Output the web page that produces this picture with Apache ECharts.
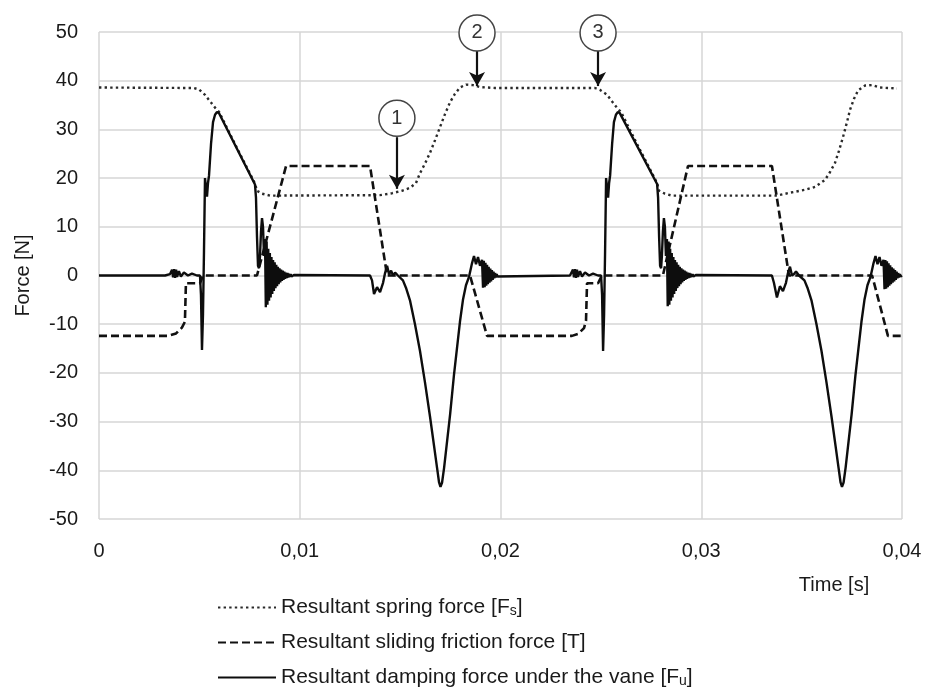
<!DOCTYPE html>
<html>
<head>
<meta charset="utf-8">
<script src="https://cdn.jsdelivr.net/npm/echarts@6/dist/echarts.min.js"></script>
<style>
html,body{margin:0;padding:0;background:#fff;}
#chart{width:935px;height:687px;}
</style>
</head>
<body>
<div id="chart"></div>
<script>
// ---- tick labels ----
const xTickLabels = ['0', '0,01', '0,02', '0,03', '0,04'];
const yTickValues = [-50, -40, -30, -20, -10, 0, 10, 20, 30, 40, 50];

// ---- series names ----
const seriesNames = [
  'Resultant spring force [Fs]',
  'Resultant sliding friction force [T]',
  'Resultant damping force under the vane [Fu]'
];

// ---- Resultant spring force [Fs]  ([time s, force N]) ----
const springForce = [
  [0, 38.6], [0.00473, 38.5], [0.00498, 38.2], [0.00528, 37.1], [0.00558, 35.5],
  [0.00583, 34.2], [0.00598, 33.6], [0.00687, 26.2], [0.00777, 18.9],
  [0.00787, 17.4], [0.00812, 16.8], [0.00852, 16.4], [0.01400, 16.5],
  [0.01460, 16.9], [0.01509, 17.4], [0.01549, 18.0], [0.01579, 19.0],
  [0.01599, 21.0], [0.01624, 23.0], [0.01649, 25.2], [0.01674, 27.8],
  [0.01699, 30.5], [0.01724, 33.2], [0.01749, 35.6], [0.01773, 37.3],
  [0.01798, 38.6], [0.01828, 39.2], [0.01863, 39.1], [0.01898, 38.7],
  [0.01973, 38.5], [0.02471, 38.5], [0.02496, 38.1], [0.02531, 37.1],
  [0.02560, 35.5], [0.02585, 34.2], [0.02600, 33.6], [0.02690, 26.2],
  [0.02780, 19.0], [0.02790, 17.4], [0.02819, 16.8], [0.02854, 16.4],
  [0.03377, 16.4], [0.03442, 17.0], [0.03517, 17.6], [0.03567, 18.2],
  [0.03616, 19.6], [0.03641, 21.2], [0.03666, 23.1], [0.03686, 25.6],
  [0.03706, 28.4], [0.03726, 31.5], [0.03741, 34.0], [0.03761, 36.3],
  [0.03781, 38.0], [0.03816, 39.0], [0.03851, 39.1], [0.03890, 38.6],
  [0.03975, 38.4]
];

// ---- Resultant sliding friction force [T] ----
const frictionForce = [
  [0, -12.4], [0.00344, -12.4], [0.00384, -11.9], [0.00413, -10.7], [0.00428, -9.5],
  [0.00433, -1.6], [0.00503, -1.6], [0.00518, 0], [0.00787, 0], [0.00932, 22.5],
  [0.01350, 22.5], [0.01435, 0], [0.01848, 0], [0.01933, -12.4], [0.02356, -12.4],
  [0.02386, -12.0], [0.02416, -10.8], [0.02426, -9.3], [0.02431, -1.6],
  [0.02486, -1.6], [0.02505, 0], [0.02809, 0], [0.02934, 22.5], [0.03352, 22.5],
  [0.03437, 0], [0.03851, 0], [0.03930, -12.4], [0.04, -12.4]
];

// ---- Resultant damping force under the vane [Fu] ----
const dampingForce = [
  [0, 0], [0.00329, 0], [0.00354, 0.3], [0.00364, 1.2], [0.00369, -0.4],
  [0.00374, 1.3], [0.00379, -0.5], [0.00384, 1.2], [0.00389, -0.3],
  [0.00398, 0.9], [0.00408, -0.2], [0.00423, 0.6], [0.00443, 0],
  [0.00463, 0.4], [0.00488, 0], [0.00503, 0], [0.00508, -4], [0.00513, -15.3],
  [0.00518, -8], [0.00523, 5], [0.00528, 20], [0.00538, 16.2], [0.00543, 19],
  [0.00548, 20.5], [0.00558, 27], [0.00568, 31.5], [0.00578, 33.0],
  [0.00588, 33.6], [0.00598, 33.3], [0.00777, 18.7], [0.00782, 16],
  [0.00787, 8], [0.00792, 2], [0.00797, 1.5], [0.00802, 4], [0.00807, 9],
  [0.00812, 11.8], [0.00817, 10], [0.00822, 4],
  [0.00827, 7.5], [0.00831, -6.5], [0.00835, 7.0], [0.00839, -6.0],
  [0.00843, 5.5], [0.00847, -5.2], [0.00851, 4.6], [0.00855, -4.5],
  [0.00859, 3.8], [0.00863, -3.8], [0.00867, 3.2], [0.00871, -3.2],
  [0.00875, 2.7], [0.00879, -2.6], [0.00883, 2.2], [0.00887, -2.2],
  [0.00891, 1.8], [0.00895, -1.8], [0.00899, 1.5], [0.00903, -1.4],
  [0.00907, 1.2], [0.00911, -1.1], [0.00915, 1.0], [0.00919, -0.9],
  [0.00923, 0.8], [0.00927, -0.7], [0.00931, 0.6], [0.00935, -0.5],
  [0.00939, 0.5], [0.00943, -0.4], [0.00947, 0.35], [0.00951, -0.3],
  [0.00955, 0.25], [0.00959, -0.2], [0.00963, 0.2], [0.00967, -0.15],
  [0.00971, 0.1], [0.00975, 0],
  [0.01350, 0], [0.01360, -1], [0.01370, -3.8], [0.01385, -2.4],
  [0.01400, -3.4], [0.01415, -1.5], [0.01425, 0.5], [0.01435, 2.0],
  [0.01445, 0.2], [0.01455, 1.0], [0.01465, 0], [0.01475, 0.6], [0.01489, 0],
  [0.01514, -1], [0.01529, -2.5], [0.01549, -5.1], [0.01574, -10],
  [0.01599, -15.5], [0.01624, -22], [0.01649, -29], [0.01669, -35],
  [0.01684, -39.5], [0.01694, -42.5], [0.01701, -43.4], [0.01709, -42.5],
  [0.01719, -39.5], [0.01734, -34], [0.01749, -28.5], [0.01768, -20.5],
  [0.01783, -15], [0.01798, -9.5], [0.01813, -5], [0.01828, -2],
  [0.01843, -0.3], [0.01848, 0], [0.01858, 2.5], [0.01868, 4.0],
  [0.01878, 2.3], [0.01888, 3.8], [0.01898, 2.0], [0.01908, 3.2],
  [0.01913, -2.5], [0.01917, 3.0], [0.01921, -2.4], [0.01925, 2.6],
  [0.01929, -2.1], [0.01933, 2.2], [0.01937, -1.8], [0.01941, 1.8],
  [0.01945, -1.5], [0.01949, 1.4], [0.01953, -1.2], [0.01957, 1.1],
  [0.01961, -0.9], [0.01965, 0.8], [0.01969, -0.6], [0.01973, 0.5],
  [0.01977, -0.4], [0.01981, 0.3], [0.01985, -0.2], [0.01989, 0.15],
  [0.01993, 0],
  [0.02346, 0], [0.02351, 0.3], [0.02361, 1.2], [0.02366, -0.4],
  [0.02371, 1.3], [0.02376, -0.5], [0.02381, 1.2], [0.02386, -0.3],
  [0.02396, 0.9], [0.02406, -0.2], [0.02421, 0.6], [0.02441, 0],
  [0.02461, 0.4], [0.02486, 0], [0.02501, 0], [0.02506, -4], [0.02511, -15.5],
  [0.02516, -8], [0.02521, 5], [0.02526, 20], [0.02536, 16], [0.02541, 19],
  [0.02546, 20.5], [0.02556, 27], [0.02565, 31.5], [0.02575, 33.0],
  [0.02585, 33.6], [0.02595, 33.3], [0.02780, 18.8], [0.02785, 16],
  [0.02790, 8], [0.02795, 2], [0.02800, 1.5], [0.02804, 4], [0.02809, 9],
  [0.02814, 11.8], [0.02819, 10], [0.02824, 4],
  [0.02829, 7.5], [0.02833, -6.3], [0.02837, 7.0], [0.02841, -6.0],
  [0.02845, 5.5], [0.02849, -5.2], [0.02853, 4.6], [0.02857, -4.5],
  [0.02861, 3.8], [0.02865, -3.8], [0.02869, 3.2], [0.02873, -3.2],
  [0.02877, 2.7], [0.02881, -2.6], [0.02885, 2.2], [0.02889, -2.2],
  [0.02893, 1.8], [0.02897, -1.8], [0.02901, 1.5], [0.02905, -1.4],
  [0.02909, 1.2], [0.02913, -1.1], [0.02917, 1.0], [0.02921, -0.9],
  [0.02925, 0.8], [0.02929, -0.7], [0.02933, 0.6], [0.02937, -0.5],
  [0.02941, 0.5], [0.02945, -0.4], [0.02949, 0.35], [0.02953, -0.3],
  [0.02957, 0.25], [0.02961, -0.2], [0.02965, 0.2], [0.02969, -0.15],
  [0.02973, 0.1], [0.02977, 0],
  [0.03352, 0], [0.03362, -1.5], [0.03377, -4.5], [0.03392, -2.2],
  [0.03407, -3.2], [0.03422, -1.5], [0.03432, 0.5], [0.03442, 1.8],
  [0.03452, 0], [0.03462, 0.3], [0.03472, 0.8], [0.03487, 0],
  [0.03514, -1], [0.03529, -2.5], [0.03549, -5.1], [0.03574, -10],
  [0.03599, -15.5], [0.03624, -22], [0.03649, -29], [0.03669, -35],
  [0.03684, -39.5], [0.03694, -42.5], [0.03701, -43.4], [0.03709, -42.5],
  [0.03719, -39.5], [0.03734, -34], [0.03749, -28.5], [0.03768, -20.5],
  [0.03783, -15], [0.03798, -9.5], [0.03813, -5], [0.03828, -2],
  [0.03843, -0.3], [0.03848, 0], [0.03858, 2.5], [0.03868, 4.0],
  [0.03878, 2.3], [0.03888, 3.8], [0.03898, 2.0], [0.03908, 3.2],
  [0.03913, -2.8], [0.03917, 3.2], [0.03921, -2.7], [0.03925, 2.9],
  [0.03929, -2.4], [0.03933, 2.5], [0.03937, -2.1], [0.03941, 2.1],
  [0.03945, -1.8], [0.03949, 1.7], [0.03953, -1.5], [0.03957, 1.4],
  [0.03961, -1.2], [0.03965, 1.1], [0.03969, -0.9], [0.03973, 0.8],
  [0.03977, -0.6], [0.03981, 0.5], [0.03985, -0.4], [0.03989, 0.3],
  [0.03993, -0.2], [0.03997, 0.1], [0.04, 0]
];

// ---- numbered annotations: [time, circle-centre force, arrow start, arrow tip] ----
const annotLabels = ['1', '2', '3'];
const annotTimes = [0.01484, 0.01883, 0.02486];
const annotCircleY = [32.3, 49.8, 49.8];
const annotArrowFrom = [28.4, 46.1, 46.1];
const annotArrowTo = [17.8, 38.9, 38.9];

const FONT = '"Liberation Sans", Arial, sans-serif';
const TXT = '#1a1a1a';

const chart = echarts.init(document.getElementById('chart'), null, {renderer: 'canvas'});

function richName(name) {
  if (name === seriesNames[0]) return '{t|Resultant spring force [F}{s|s}{t|]}';
  if (name === seriesNames[1]) return '{t|Resultant sliding friction force [T]}';
  return '{t|Resultant damping force under the vane [F}{s|u}{t|]}';
}

const option = {
  animation: false,
  backgroundColor: '#fff',
  grid: {left: 99, right: 33, top: 32, bottom: 168, containLabel: false},
  xAxis: {
    type: 'value', min: 0, max: 0.04, interval: 0.01,
    axisLine: {show: false}, axisTick: {show: false},
    splitLine: {show: true, lineStyle: {color: '#d6d6d6', width: 1.5}},
    axisLabel: {
      margin: 22, fontSize: 20, fontFamily: FONT, color: TXT,
      showMinLabel: true, showMaxLabel: true,
      formatter: v => xTickLabels[Math.round(v / 0.01)]
    }
  },
  yAxis: {
    type: 'value', min: yTickValues[0], max: yTickValues[yTickValues.length - 1], interval: 10,
    axisLine: {show: false}, axisTick: {show: false},
    splitLine: {show: true, lineStyle: {color: '#d6d6d6', width: 1.5}},
    axisLabel: {margin: 21, fontSize: 20, fontFamily: FONT, color: TXT},
    name: 'Force [N]', nameLocation: 'middle', nameGap: 66,
    nameTextStyle: {fontSize: 20, fontFamily: FONT, color: TXT}
  },
  legend: {
    data: seriesNames,
    orient: 'vertical', left: 217, top: 597, height: 140,
    padding: 0,
    itemWidth: 58, itemHeight: 21, itemGap: 14,
    selectedMode: false,
    itemStyle: {opacity: 0},
    formatter: richName,
    textStyle: {
      fontFamily: FONT, color: TXT, fontSize: 21,
      rich: {
        t: {fontSize: 21, fontFamily: FONT, color: TXT, lineHeight: 21},
        s: {fontSize: 14, fontFamily: FONT, color: TXT, lineHeight: 11, verticalAlign: 'bottom'}
      }
    }
  },
  graphic: [{
    type: 'text', x: 834, y: 585,
    style: {text: 'Time [s]', font: '20px ' + FONT, fill: TXT,
            align: 'center', verticalAlign: 'middle', textAlign: 'center', textVerticalAlign: 'middle'}
  }],
  series: [
    {
      name: seriesNames[0], type: 'line', data: springForce,
      showSymbol: false, symbol: 'none', z: 2,
      lineStyle: {color: '#2a2a2a', width: 2.4, type: [2.4, 3.2]},
      itemStyle: {color: '#2a2a2a'},
      markPoint: {
        symbol: 'circle', symbolSize: 36, silent: true,
        itemStyle: {color: '#fff', borderColor: '#444', borderWidth: 1.5},
        label: {show: true, position: 'inside', formatter: '{b}', fontSize: 20, fontFamily: FONT, color: '#333'},
        data: annotLabels.map((l, i) => ({name: l, coord: [annotTimes[i], annotCircleY[i]]}))
      },
      markLine: {
        silent: true, symbol: ['none', 'arrow'], symbolSize: [12, 14],
        lineStyle: {color: '#111', width: 2.2, type: 'solid'},
        label: {show: false},
        data: annotLabels.map((l, i) => [
          {coord: [annotTimes[i], annotArrowFrom[i]]},
          {coord: [annotTimes[i], annotArrowTo[i]]}
        ])
      }
    },
    {
      name: seriesNames[1], type: 'line', data: frictionForce,
      showSymbol: false, symbol: 'none', z: 3,
      lineStyle: {color: '#111', width: 2.6, type: [8, 4]},
      itemStyle: {color: '#111'}
    },
    {
      name: seriesNames[2], type: 'line', data: dampingForce,
      showSymbol: false, symbol: 'none', z: 4,
      lineStyle: {color: '#0d0d0d', width: 2.4, type: 'solid'},
      itemStyle: {color: '#0d0d0d'}
    }
  ]
};
chart.setOption(option);
</script>
</body>
</html>
